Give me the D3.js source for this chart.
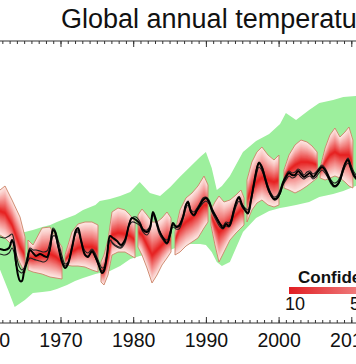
<!DOCTYPE html>
<html><head><meta charset="utf-8">
<script src="https://cdn.jsdelivr.net/npm/d3@7"></script>
<style>html,body{margin:0;padding:0;background:#fff;overflow:hidden}svg{display:block}</style>
</head><body><svg id="c" width="356" height="364"></svg>
<script>
const titleText = "Global annual temperature";
const tickYears = [1960, 1970, 1980, 1990, 2000, 2010];
const legendTitle = "Confidence";
const legendTicks = [10, 50, 90];

// Uninitialised model envelope (green)
const envYears = [1961.0, 1961.7, 1962.8, 1963.7, 1965.1, 1966.2, 1967.5, 1968.6, 1969.5, 1970.9, 1972.0, 1973.1, 1974.8, 1975.4, 1976.8, 1978.2, 1979.6, 1980.9, 1982.3, 1983.7, 1985.1, 1986.4, 1987.8, 1989.2, 1990.0, 1990.8, 1991.5, 1992.2, 1993.3, 1995.1, 1996.9, 1998.7, 2000.2, 2001.0, 2002.4, 2004.2, 2005.6, 2007.5, 2008.9, 2010.6, 2011.2];
const envUpper = [0.03, 0.02, 0.005, -0.005, -0.01, 0.0, 0.015, 0.025, 0.04, 0.06, 0.075, 0.10, 0.125, 0.145, 0.155, 0.17, 0.19, 0.24, 0.185, 0.17, 0.215, 0.265, 0.315, 0.365, 0.39, 0.31, 0.20, 0.22, 0.27, 0.39, 0.445, 0.48, 0.53, 0.585, 0.55, 0.60, 0.635, 0.65, 0.665, 0.67, 0.675];
const envLower = [-0.175, -0.20, -0.30, -0.385, -0.35, -0.315, -0.31, -0.305, -0.295, -0.275, -0.255, -0.24, -0.22, -0.215, -0.205, -0.18, -0.145, -0.13, -0.12, -0.11, -0.10, -0.08, -0.07, -0.07, -0.075, -0.11, -0.16, -0.18, -0.16, -0.01, 0.06, 0.095, 0.11, 0.115, 0.125, 0.14, 0.165, 0.18, 0.195, 0.22, 0.225];

// Hindcasts (red confidence plumes)
const hindcastYears = [
 [1961.0, 1961.68, 1962.37, 1963.33, 1964.43, 1965.12],
 [1965.53, 1966.22, 1967.46, 1968.56, 1969.38, 1970.21],
 [1970.62, 1971.58, 1972.41, 1973.37, 1974.33, 1975.16],
 [1975.57, 1975.98, 1976.53, 1977.08, 1977.91, 1978.87, 1979.56, 1980.25],
 [1980.66, 1981.21, 1981.90, 1982.59, 1983.27, 1983.96, 1984.65, 1985.20],
 [1985.75, 1986.44, 1987.26, 1988.09, 1988.91, 1989.74, 1990.29],
 [1990.70, 1991.25, 1991.80, 1992.49, 1993.31, 1994.14, 1994.83, 1995.24],
 [1995.65, 1996.33, 1997.02, 1997.71, 1998.54, 1999.37, 2000.05],
 [2000.74, 2001.43, 2002.26, 2003.08, 2003.91, 2004.60, 2005.30],
 [2005.71, 2006.40, 2007.06, 2007.75, 2008.44, 2009.13, 2009.68, 2010.22]
];
const hindcastUpper = [
 [0.19, 0.20, 0.22, 0.15, 0.065, -0.035],
 [-0.05, -0.075, 0.01, 0.015, -0.04, -0.085],
 [-0.125, -0.01, 0.03, 0.04, 0.04, 0.025],
 [-0.16, -0.125, -0.05, 0.09, 0.11, 0.10, 0.075, 0.04],
 [0.075, 0.105, 0.075, 0.04, 0.04, 0.06, 0.09, 0.06],
 [-0.01, 0.10, 0.16, 0.185, 0.22, 0.27, 0.225],
 [0.10, 0.14, 0.17, 0.14, 0.15, 0.175, 0.20, 0.16],
 [0.25, 0.34, 0.39, 0.415, 0.375, 0.35, 0.375],
 [0.30, 0.375, 0.425, 0.45, 0.44, 0.42, 0.39],
 [0.31, 0.41, 0.475, 0.51, 0.465, 0.49, 0.515, 0.45]
];
const hindcastCenter = [
 [0.10, 0.095, 0.085, 0.025, -0.085, -0.125],
 [-0.14, -0.14, -0.125, -0.12, -0.135, -0.16],
 [-0.15, -0.11, -0.09, -0.085, -0.085, -0.10],
 [-0.21, -0.20, -0.14, -0.025, -0.015, -0.02, -0.03, -0.05],
 [-0.01, -0.025, -0.075, -0.125, -0.10, -0.075, -0.05, -0.05],
 [-0.05, 0.01, 0.04, 0.06, 0.09, 0.125, 0.125],
 [0.075, 0.025, -0.01, 0.01, 0.04, 0.075, 0.10, 0.09],
 [0.15, 0.21, 0.24, 0.26, 0.25, 0.24, 0.25],
 [0.26, 0.30, 0.325, 0.34, 0.34, 0.335, 0.325],
 [0.29, 0.34, 0.375, 0.39, 0.375, 0.375, 0.375, 0.325]
];
const hindcastLower = [
 [-0.015, -0.025, -0.04, -0.075, -0.165, -0.215],
 [-0.20, -0.21, -0.22, -0.235, -0.24, -0.245],
 [-0.175, -0.18, -0.18, -0.185, -0.20, -0.21],
 [-0.26, -0.275, -0.225, -0.125, -0.11, -0.11, -0.125, -0.14],
 [-0.085, -0.125, -0.19, -0.265, -0.225, -0.175, -0.14, -0.11],
 [-0.125, -0.11, -0.08, -0.06, -0.04, 0.01, 0.04],
 [0.025, -0.075, -0.16, -0.11, -0.05, -0.015, 0.01, 0.025],
 [0.04, 0.10, 0.135, 0.15, 0.125, 0.115, 0.125],
 [0.21, 0.20, 0.185, 0.20, 0.22, 0.24, 0.26],
 [0.26, 0.25, 0.26, 0.27, 0.26, 0.24, 0.22, 0.21]
];

// Observations (three datasets)
const obsYears = [1961.27, 1961.68, 1962.37, 1962.92, 1963.33, 1963.60, 1963.88, 1964.15, 1964.43, 1964.70,
 1964.98, 1965.39, 1965.80, 1966.22, 1966.63, 1967.18, 1967.73, 1968.14, 1968.56, 1968.97,
 1969.24, 1969.66, 1970.21, 1970.62, 1971.03, 1971.58, 1972.13, 1972.41, 1972.82, 1973.37,
 1973.78, 1974.33, 1974.75, 1975.16, 1975.71, 1975.98, 1976.40, 1976.81, 1977.22, 1977.77,
 1978.32, 1978.87, 1979.42, 1979.83, 1980.39, 1980.94, 1981.35, 1981.90, 1982.31, 1982.72,
 1983.14, 1983.55, 1984.10, 1984.65, 1985.06, 1985.47, 1985.89, 1986.30, 1986.85, 1987.26,
 1987.54, 1987.95, 1988.36, 1988.78, 1989.19, 1989.60, 1990.01, 1990.43, 1990.84, 1991.39,
 1991.94, 1992.35, 1992.76, 1993.18, 1993.45, 1993.86, 1994.28, 1994.55, 1994.97, 1995.38,
 1995.79, 1996.20, 1996.62, 1997.03, 1997.30, 1997.72, 1998.13, 1998.54, 1998.95, 1999.37,
 1999.78, 2000.19, 2000.61, 2001.02, 2001.43, 2001.84, 2002.26, 2002.67, 2003.08, 2003.49,
 2003.91, 2004.32, 2004.73, 2005.14, 2005.56, 2005.97, 2006.38, 2006.80, 2007.21, 2007.62,
 2008.03, 2008.45, 2008.86, 2009.27, 2009.55, 2009.96, 2010.37, 2010.78];
const obsMain = [-0.095, -0.095, -0.10, -0.09, -0.05, -0.075, -0.16, -0.225, -0.255, -0.255,
 -0.21, -0.16, -0.10, -0.115, -0.13, -0.12, -0.13, -0.135, -0.09, 0,
 -0.01, -0.075, -0.16, -0.19, -0.17, -0.09, 0, 0.01, -0.05, -0.125,
 -0.135, -0.105, -0.13, -0.165, -0.215, -0.205, -0.125, -0.03, -0.04, -0.055,
 -0.075, -0.05, 0.025, 0.06, 0.05, 0.03, 0, -0.01, 0.01, 0.09,
 0.05, 0, -0.04, -0.065, -0.025, 0.035, 0.015, 0.02, 0.065, 0.125,
 0.14, 0.09, 0.075, 0.10, 0.125, 0.15, 0.16, 0.14, 0.10, 0.065,
 0.03, 0.01, 0.03, 0.02, 0.04, 0.10, 0.15, 0.165, 0.125, 0.10,
 0.085, 0.15, 0.235, 0.31, 0.335, 0.31, 0.26, 0.21, 0.175, 0.155,
 0.16, 0.185, 0.235, 0.265, 0.285, 0.275, 0.275, 0.295, 0.28, 0.265,
 0.275, 0.285, 0.265, 0.28, 0.30, 0.315, 0.30, 0.27, 0.24, 0.22,
 0.225, 0.25, 0.30, 0.34, 0.35, 0.31, 0.275, 0.255];
const obsAltA = [-0.035, -0.035, -0.04, -0.03, -0.02, -0.05, -0.11, -0.165, -0.19, -0.20,
 -0.19, -0.14, -0.09, -0.10, -0.10, -0.105, -0.11, -0.105, -0.06, 0.01,
 0, -0.05, -0.13, -0.17, -0.16, -0.08, -0.01, 0, -0.05, -0.105,
 -0.115, -0.095, -0.115, -0.15, -0.19, -0.185, -0.12, -0.05, -0.065, -0.08,
 -0.085, -0.055, 0.03, 0.06, 0.065, 0.04, 0.005, 0, 0.02, 0.08,
 0.045, 0, -0.035, -0.05, -0.01, 0.025, 0.02, 0.025, 0.07, 0.13,
 0.145, 0.10, 0.09, 0.11, 0.135, 0.16, 0.165, 0.15, 0.11, 0.07,
 0.035, 0.02, 0.04, 0.035, 0.05, 0.105, 0.145, 0.16, 0.13, 0.11,
 0.10, 0.16, 0.24, 0.315, 0.34, 0.32, 0.27, 0.22, 0.185, 0.165,
 0.17, 0.20, 0.245, 0.275, 0.295, 0.285, 0.29, 0.305, 0.295, 0.275,
 0.29, 0.295, 0.28, 0.29, 0.31, 0.325, 0.31, 0.28, 0.25, 0.235,
 0.24, 0.265, 0.31, 0.345, 0.36, 0.325, 0.29, 0.27];
const obsAltB = [-0.12, -0.12, -0.125, -0.115, -0.09, -0.11, -0.175, -0.20, -0.21, -0.215,
 -0.20, -0.165, -0.14, -0.145, -0.15, -0.155, -0.16, -0.15, -0.10, -0.03,
 -0.03, -0.085, -0.15, -0.18, -0.165, -0.095, -0.015, -0.01, -0.06, -0.12,
 -0.13, -0.11, -0.135, -0.17, -0.205, -0.195, -0.135, -0.05, -0.07, -0.085,
 -0.09, -0.065, 0.02, 0.04, 0.035, 0.02, -0.01, -0.025, 0, 0.075,
 0.035, -0.015, -0.05, -0.07, -0.03, 0.015, 0.005, 0.005, 0.055, 0.11,
 0.125, 0.085, 0.07, 0.095, 0.115, 0.135, 0.145, 0.13, 0.09, 0.05,
 0.015, 0.005, 0.02, 0.015, 0.03, 0.085, 0.13, 0.145, 0.115, 0.095,
 0.08, 0.14, 0.22, 0.29, 0.315, 0.295, 0.25, 0.20, 0.17, 0.15,
 0.155, 0.18, 0.225, 0.25, 0.27, 0.26, 0.265, 0.28, 0.265, 0.255,
 0.265, 0.27, 0.255, 0.265, 0.285, 0.30, 0.285, 0.26, 0.23, 0.215,
 0.22, 0.245, 0.29, 0.325, 0.335, 0.30, 0.265, 0.25];

const FONT = "'Liberation Sans', Arial, Helvetica, sans-serif";
const svg = d3.select("#c");
const x = d3.scaleLinear().domain([1960, 2010]).range([-12.2, 351.3]);
const y = d3.scaleLinear().domain([-0.5, 0.8]).range([330, 70]);
const axisTopY = 41, axisBottomY = 323;
const frameYears = [1955, 2016];

// green envelope
const envData = envYears.map((yr, i) => ({yr, lo: envLower[i], hi: envUpper[i]}));
svg.append("path").datum(envData).attr("fill", "#9def9d")
  .attr("d", d3.area().x(d => x(d.yr)).y0(d => y(d.lo)).y1(d => y(d.hi)));

// hindcast plumes with graded shading
const nLev = 26;
const levels = d3.range(nLev).map(i => 1 - i / nLev);
const col = d3.interpolateRgb("#fde6e2", "#e61a1a");
hindcastYears.forEach((yrs, s) => {
  const data = yrs.map((yr, i) => ({yr, hi: hindcastUpper[s][i], c: hindcastCenter[s][i], lo: hindcastLower[s][i]}));
  const g = svg.append("g");
  levels.forEach(f => {
    g.append("path").datum(data).attr("fill", col(Math.pow(1 - f, 1.2)))
      .attr("d", d3.area().x(d => x(d.yr))
        .y0(d => y(d.c + f * (d.lo - d.c))).y1(d => y(d.c + f * (d.hi - d.c))));
  });
  g.append("path").datum(data).attr("fill", "none").attr("stroke", "#cc8266").attr("stroke-width", 0.9)
    .attr("d", d3.area().x(d => x(d.yr)).y0(d => y(d.lo)).y1(d => y(d.hi)));
});

// observations
const line = d3.line().x(d => x(d[0])).y(d => y(d[1])).curve(d3.curveCatmullRom);
[[obsAltA, 1.1, "#222"], [obsAltB, 1.1, "#222"], [obsMain, 2, "#000"]].forEach(([vals, w, c]) => {
  svg.append("path").datum(obsYears.map((yr, i) => [yr, vals[i]]))
    .attr("fill", "none").attr("stroke", c).attr("stroke-width", w)
    .attr("stroke-linejoin", "round").attr("d", line);
});

// axes
const minorYears = d3.range(frameYears[0], frameYears[1] + 1);
function styleAxis(g) { g.select(".domain").remove(); g.attr("color", "#333"); }
svg.append("g").attr("transform", `translate(0,${axisBottomY})`)
  .call(d3.axisBottom(x).tickValues(minorYears).tickSizeInner(-3).tickSizeOuter(0).tickFormat(""))
  .call(styleAxis);
const gbm = svg.append("g").attr("transform", `translate(0,${axisBottomY})`)
  .call(d3.axisBottom(x).tickValues(tickYears).tickSizeInner(-6).tickSizeOuter(0).tickPadding(10).tickFormat(d3.format("d")))
  .call(styleAxis);
gbm.attr("font-size", 19.5).attr("font-family", FONT);
gbm.selectAll("text").attr("fill", "#111");
svg.append("g").attr("transform", `translate(0,${axisTopY})`)
  .call(d3.axisTop(x).tickValues(minorYears).tickSizeInner(-3).tickSizeOuter(0).tickFormat(""))
  .call(styleAxis);
svg.append("g").attr("transform", `translate(0,${axisTopY})`)
  .call(d3.axisTop(x).tickValues(tickYears).tickSizeInner(-6).tickSizeOuter(0).tickFormat(""))
  .call(styleAxis);
[axisTopY, axisBottomY].forEach(yy => {
  svg.append("line").attr("x1", x(frameYears[0])).attr("x2", x(frameYears[1]))
    .attr("y1", yy).attr("y2", yy).attr("stroke", "#333").attr("stroke-width", 1);
});

// title
svg.append("text").attr("x", 61).attr("y", 28).attr("font-family", FONT).attr("font-size", 27)
  .attr("fill", "#111").text(titleText);

// legend
const lx = d3.scaleLinear().domain([10, 50]).range([295, 360]);
const defs = svg.append("defs");
const grad = defs.append("linearGradient").attr("id", "lg");
grad.append("stop").attr("offset", "0%").attr("stop-color", "#e11d22");
grad.append("stop").attr("offset", "100%").attr("stop-color", "#fde0dc");
svg.append("rect").attr("x", lx(10) - 6).attr("y", 287).attr("width", lx(90) - lx(10) + 12).attr("height", 7)
  .attr("fill", "url(#lg)");
svg.append("text").attr("x", 298).attr("y", 283).attr("font-family", FONT).attr("font-size", 17)
  .attr("font-weight", "bold").attr("fill", "#111").text(legendTitle);
svg.selectAll(".lt").data(legendTicks).enter().append("text")
  .attr("x", d => lx(d)).attr("y", 310).attr("text-anchor", "middle")
  .attr("font-family", FONT).attr("font-size", 18).attr("fill", "#111").text(d => d);
</script></body></html>
